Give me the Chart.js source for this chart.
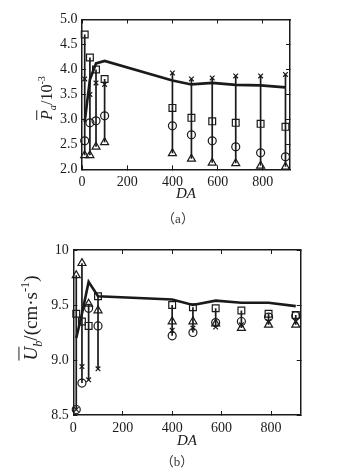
<!DOCTYPE html>
<html>
<head>
<meta charset="utf-8">
<script src="https://cdn.jsdelivr.net/npm/chart.js@4"></script>
<style>
  body { margin: 0; width: 340px; height: 473px; background: #fff; position: relative; overflow: hidden; }
  .box { position: absolute; left: 0; width: 340px; }
  .ylab { position: absolute; transform: translate(-50%, -50%) rotate(-90deg); white-space: nowrap;
          font-family: "Liberation Serif", serif; color: #222; }
  .ylab i.bar { text-decoration: overline; }
  .ylab sub, .ylab sup { font-size: 65%; }
  .cap { position: absolute; transform: translate(-50%, -50%); font-family: "Liberation Serif", "Noto Sans CJK SC", serif;
         font-size: 13px; color: #333; white-space: nowrap; }
</style>
</head>
<body>
<div class="box" style="top:0;height:230px"><canvas id="chartA"></canvas></div>
<div class="box" style="top:230px;height:243px"><canvas id="chartB"></canvas></div>
<div class="ylab" style="left:47px;top:98px;font-size:16px"><i class="bar">P</i><sub><i>a</i></sub>/10<sup>-3</sup></div>
<div class="ylab" style="left:32px;top:318px;font-size:19px"><i class="bar">U</i><sub><i>b</i></sub>/(cm·s<sup>-1</sup>)</div>
<div class="cap" style="left:178px;top:217px">（a）</div>
<div class="cap" style="left:177px;top:460px">（b）</div>
<script>
// Distance along the channel
const DA = [12, 35, 62, 100, 400, 484, 576, 680, 790, 900];
const xTicks = [0, 200, 400, 600, 800];

// (a) P_a / 10^-3
const paSquare   = [4.70, 4.24, 4.00, 3.81, 3.23, 3.03, 2.96, 2.93, 2.91, 2.85];
const paCross    = [3.81, 3.50, 3.73, 3.70, 3.93, 3.81, 3.83, 3.87, 3.87, 3.90];
const paCircle   = [2.57, 2.93, 2.97, 3.07, 2.87, 2.69, 2.57, 2.45, 2.33, 2.25];
const paTriangle = [2.28, 2.28, 2.45, 2.54, 2.32, 2.21, 2.13, 2.12, 2.07, 2.05];
const paMean     = [2.95, 3.80, 4.12, 4.17, 3.78, 3.70, 3.73, 3.69, 3.68, 3.64];
const paTicks = [2.0, 2.5, 3.0, 3.5, 4.0, 4.5, 5.0];

// (b) U_b (cm/s)
const ubSquare   = [9.42, 9.35, 9.31, 9.58, 9.50, 9.48, 9.47, 9.45, 9.42, 9.41];
const ubCross    = [8.55, 8.94, 8.82, 8.92, 9.27, 9.29, 9.30, 9.32, 9.35, 9.35];
const ubCircle   = [8.55, 8.79, 9.47, 9.31, 9.22, 9.25, 9.34, 9.35, 9.39, 9.40];
const ubTriangle = [9.77, 9.88, 9.51, 9.45, 9.35, 9.35, 9.33, 9.29, 9.32, 9.32];
const ubMean     = [9.20, 9.42, 9.71, 9.58, 9.55, 9.50, 9.54, 9.52, 9.52, 9.49];
const ubTicks = [8.5, 9.0, 9.5, 10];

const INK = '#1a1a1a';
const tickFont = { family: 'Liberation Serif', size: 14 };

function pts(vals) {
    return vals.map((v, i) => ({ x: DA[i], y: v }));
}

// vertical bar from lowest to highest marker at each DA, broken by nulls
function ranges(groups) {
    const out = [];
    DA.forEach((x, i) => {
        const vals = groups.map(g => g[i]);
        out.push({ x, y: Math.min(...vals) }, { x, y: Math.max(...vals) }, { x, y: null });
    });
    return out;
}

function marker(data, style, r) {
    return {
        data: pts(data), showLine: false, pointStyle: style, pointRadius: r,
        pointBorderColor: INK, pointBackgroundColor: 'rgba(255,255,255,0)',
        pointBorderWidth: 1.2, clip: false
    };
}

function makeChart(id, s, opt) {
    const datasets = [
        { data: ranges([s.square, s.cross, s.circle, s.triangle]), showLine: true, spanGaps: false,
          borderColor: INK, borderWidth: 1.7, pointRadius: 0 },
        { data: pts(s.mean), showLine: true, borderColor: INK, borderWidth: 2.6, pointRadius: 0 },
        marker(s.square, 'rect', 4.8),
        marker(s.cross, 'crossRot', 3.3),
        marker(s.circle, 'circle', 4),
        marker(s.triangle, 'triangle', 4.6)
    ];

    const inner = { color: INK, drawOnChartArea: false, tickLength: -4, lineWidth: 1 };
    const border = { color: INK, width: 1.5 };

    new Chart(document.getElementById(id), {
        type: 'scatter',
        data: { datasets },
        options: {
            responsive: true, maintainAspectRatio: false, animation: false,
            layout: { padding: opt.pad },
            plugins: { legend: { display: false }, tooltip: { enabled: false } },
            scales: {
                x: {
                    type: 'linear', min: 0, max: 920,
                    afterBuildTicks: sc => { sc.ticks = xTicks.map(v => ({ value: v })); },
                    afterFit: sc => { sc.height = 40; },
                    grid: inner, border,
                    ticks: { color: INK, font: tickFont, padding: 9 },
                    title: { display: true, text: 'DA', color: INK, padding: { top: 0, bottom: opt.titlePad },
                             font: { family: 'Liberation Serif', size: 15, style: 'italic' } }
                },
                x2: {
                    type: 'linear', position: 'top', min: 0, max: 920,
                    afterBuildTicks: sc => { sc.ticks = xTicks.map(v => ({ value: v })); },
                    afterFit: sc => { sc.height = 0; },
                    grid: inner, border, ticks: { display: false }
                },
                y: {
                    min: opt.yMin, max: opt.yMax,
                    afterBuildTicks: sc => { sc.ticks = opt.yTicks.map(v => ({ value: v })); },
                    afterFit: sc => { sc.width = 40; },
                    grid: inner, border,
                    ticks: { color: INK, font: tickFont, padding: 8.5,
                             callback: v => (v === 10 ? '10' : v.toFixed(1)) }
                },
                y2: {
                    position: 'right', min: opt.yMin, max: opt.yMax,
                    afterBuildTicks: sc => { sc.ticks = opt.yTicks.map(v => ({ value: v })); },
                    afterFit: sc => { sc.width = 0; },
                    grid: inner, border, ticks: { display: false }
                }
            }
        }
    });
}

makeChart('chartA',
    { square: paSquare, cross: paCross, circle: paCircle, triangle: paTriangle, mean: paMean },
    { yMin: 2, yMax: 5, yTicks: paTicks, pad: { left: 42, right: 50, top: 19.5, bottom: 20.7 }, titlePad: 6.3 });

makeChart('chartB',
    { square: ubSquare, cross: ubCross, circle: ubCircle, triangle: ubTriangle, mean: ubMean },
    { yMin: 8.5, yMax: 10, yTicks: ubTicks, pad: { left: 33.3, right: 39.3, top: 20, bottom: 18 }, titlePad: 5.3 });
</script>
</body>
</html>
